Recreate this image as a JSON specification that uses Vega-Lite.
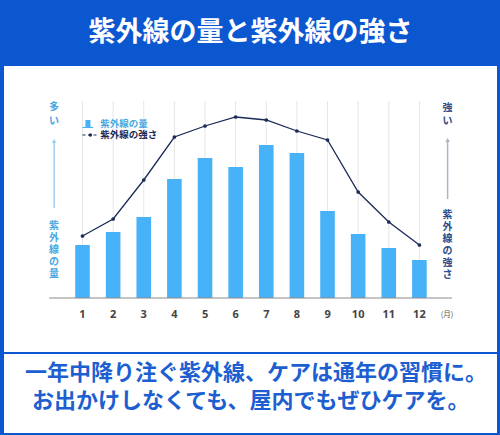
{
  "$schema": "https://vega.github.io/schema/vega-lite/v6.json",
  "background": "#0b57d0",
  "padding": {"left": 4, "right": 3, "top": 19, "bottom": 3},
  "spacing": 2,
  "title": {"text": "紫外線の量と紫外線の強さ", "color": "#ffffff", "fontSize": 27, "font": "Noto Sans CJK JP", "fontWeight": "bold", "anchor": "middle", "offset": 19, "frame": "group"},
  "config": {"view": {"fill": "#ffffff", "stroke": null}, "font": "Noto Sans CJK JP"},
  "datasets": {
    "uv": [
      {"month": 1, "amount": 53, "intensity": 62},
      {"month": 2, "amount": 66, "intensity": 79},
      {"month": 3, "amount": 81, "intensity": 118},
      {"month": 4, "amount": 119, "intensity": 161},
      {"month": 5, "amount": 140, "intensity": 172},
      {"month": 6, "amount": 131, "intensity": 181},
      {"month": 7, "amount": 153, "intensity": 178},
      {"month": 8, "amount": 145, "intensity": 167},
      {"month": 9, "amount": 87, "intensity": 158},
      {"month": 10, "amount": 64, "intensity": 106},
      {"month": 11, "amount": 50, "intensity": 76},
      {"month": 12, "amount": 38, "intensity": 53}
    ],
    "one": [{"k": 1}]
  },
  "vconcat": [
    {
      "width": 493,
      "height": 286,
      "layer": [
        {
          "data": {"name": "uv"},
          "mark": {"type": "rule", "color": "#e6e6e6", "strokeWidth": 1},
          "encoding": {
            "x": {"field": "month", "type": "quantitative", "scale": {"domain": [-1.4, 14.37], "nice": false, "zero": false}, "axis": null},
            "y": {"datum": 0, "type": "quantitative", "scale": {"domain": [-54, 232], "nice": false}, "axis": null},
            "y2": {"datum": 197}
          }
        },
        {
          "data": {"name": "uv"},
          "mark": {"type": "bar", "color": "#47b2f7", "width": 14.6},
          "encoding": {
            "x": {"field": "month", "type": "quantitative", "scale": {"domain": [-1.4, 14.37], "nice": false, "zero": false}, "axis": null},
            "y": {"field": "amount", "type": "quantitative", "scale": {"domain": [-54, 232], "nice": false}, "axis": null},
            "y2": {"datum": 0}
          }
        },
        {
          "data": {"name": "one"},
          "mark": {"type": "rule", "color": "#8a8a8a", "strokeWidth": 1},
          "encoding": {
            "x": {"datum": -0.09, "type": "quantitative", "scale": {"domain": [-1.4, 14.37], "nice": false, "zero": false}, "axis": null},
            "x2": {"datum": 13.06},
            "y": {"datum": 0, "type": "quantitative", "scale": {"domain": [-54, 232], "nice": false}, "axis": null}
          }
        },
        {
          "data": {"name": "uv"},
          "mark": {"type": "line", "color": "#1b2a57", "strokeWidth": 1.3, "point": {"filled": true, "size": 14, "color": "#1b2a57"}},
          "encoding": {
            "x": {"field": "month", "type": "quantitative", "scale": {"domain": [-1.4, 14.37], "nice": false, "zero": false}, "axis": null},
            "y": {"field": "intensity", "type": "quantitative", "scale": {"domain": [-54, 232], "nice": false}, "axis": null}
          }
        },
        {
          "data": {"name": "uv"},
          "mark": {"type": "text", "font": "Noto Sans", "fontWeight": "bold", "fontSize": 11, "color": "#444444", "baseline": "middle", "align": "center"},
          "encoding": {
            "x": {"field": "month", "type": "quantitative", "scale": {"domain": [-1.4, 14.37], "nice": false, "zero": false}, "axis": null},
            "y": {"datum": -17, "type": "quantitative", "scale": {"domain": [-54, 232], "nice": false}, "axis": null},
            "text": {"field": "month", "type": "quantitative"}
          }
        },
        {
          "data": {"name": "one"},
          "mark": {"type": "text", "text": "(月)", "fontSize": 7.5, "color": "#555555", "baseline": "middle", "align": "center"},
          "encoding": {
            "x": {"datum": 12.9, "type": "quantitative", "scale": {"domain": [-1.4, 14.37], "nice": false, "zero": false}, "axis": null},
            "y": {"datum": -17, "type": "quantitative", "scale": {"domain": [-54, 232], "nice": false}, "axis": null}
          }
        },
        {
          "data": {"name": "one"},
          "mark": {"type": "text", "text": ["多", "い"], "fontSize": 10, "fontWeight": "bold", "color": "#4aa8e0", "baseline": "top", "align": "center", "lineHeight": 13.5},
          "encoding": {
            "x": {"datum": 0.073, "type": "quantitative", "scale": {"domain": [-1.4, 14.37], "nice": false, "zero": false}, "axis": null},
            "y": {"datum": 196, "type": "quantitative", "scale": {"domain": [-54, 232], "nice": false}, "axis": null}
          }
        },
        {
          "data": {"name": "one"},
          "mark": {"type": "rule", "color": "#9fd0f0", "strokeWidth": 1.5},
          "encoding": {
            "x": {"datum": 0.073, "type": "quantitative", "scale": {"domain": [-1.4, 14.37], "nice": false, "zero": false}, "axis": null},
            "y": {"datum": 90, "type": "quantitative", "scale": {"domain": [-54, 232], "nice": false}, "axis": null},
            "y2": {"datum": 156}
          }
        },
        {
          "data": {"name": "one"},
          "mark": {"type": "point", "shape": "triangle-up", "filled": true, "size": 22, "color": "#9fd0f0", "opacity": 1},
          "encoding": {
            "x": {"datum": 0.073, "type": "quantitative", "scale": {"domain": [-1.4, 14.37], "nice": false, "zero": false}, "axis": null},
            "y": {"datum": 157, "type": "quantitative", "scale": {"domain": [-54, 232], "nice": false}, "axis": null}
          }
        },
        {
          "data": {"name": "one"},
          "mark": {"type": "text", "text": ["紫", "外", "線", "の", "量"], "fontSize": 10, "fontWeight": "bold", "color": "#4aa8e0", "baseline": "top", "align": "center", "lineHeight": 12},
          "encoding": {
            "x": {"datum": 0.073, "type": "quantitative", "scale": {"domain": [-1.4, 14.37], "nice": false, "zero": false}, "axis": null},
            "y": {"datum": 77, "type": "quantitative", "scale": {"domain": [-54, 232], "nice": false}, "axis": null}
          }
        },
        {
          "data": {"name": "one"},
          "mark": {"type": "text", "text": ["強", "い"], "fontSize": 10, "fontWeight": "bold", "color": "#2b4c8c", "baseline": "top", "align": "center", "lineHeight": 12.5},
          "encoding": {
            "x": {"datum": 12.92, "type": "quantitative", "scale": {"domain": [-1.4, 14.37], "nice": false, "zero": false}, "axis": null},
            "y": {"datum": 195, "type": "quantitative", "scale": {"domain": [-54, 232], "nice": false}, "axis": null}
          }
        },
        {
          "data": {"name": "one"},
          "mark": {"type": "rule", "color": "#a9b6c8", "strokeWidth": 1.5},
          "encoding": {
            "x": {"datum": 12.92, "type": "quantitative", "scale": {"domain": [-1.4, 14.37], "nice": false, "zero": false}, "axis": null},
            "y": {"datum": 99, "type": "quantitative", "scale": {"domain": [-54, 232], "nice": false}, "axis": null},
            "y2": {"datum": 157}
          }
        },
        {
          "data": {"name": "one"},
          "mark": {"type": "point", "shape": "triangle-up", "filled": true, "size": 22, "color": "#a9b6c8", "opacity": 1},
          "encoding": {
            "x": {"datum": 12.92, "type": "quantitative", "scale": {"domain": [-1.4, 14.37], "nice": false, "zero": false}, "axis": null},
            "y": {"datum": 158, "type": "quantitative", "scale": {"domain": [-54, 232], "nice": false}, "axis": null}
          }
        },
        {
          "data": {"name": "one"},
          "mark": {"type": "text", "text": ["紫", "外", "線", "の", "強", "さ"], "fontSize": 10, "fontWeight": "bold", "color": "#2b4c8c", "baseline": "top", "align": "center", "lineHeight": 12},
          "encoding": {
            "x": {"datum": 12.92, "type": "quantitative", "scale": {"domain": [-1.4, 14.37], "nice": false, "zero": false}, "axis": null},
            "y": {"datum": 88, "type": "quantitative", "scale": {"domain": [-54, 232], "nice": false}, "axis": null}
          }
        },
        {
          "data": {"name": "one"},
          "mark": {"type": "rect", "color": "#47b2f7"},
          "encoding": {
            "x": {"datum": 1.096, "type": "quantitative", "scale": {"domain": [-1.4, 14.37], "nice": false, "zero": false}, "axis": null},
            "x2": {"datum": 1.26},
            "y": {"datum": 171, "type": "quantitative", "scale": {"domain": [-54, 232], "nice": false}, "axis": null},
            "y2": {"datum": 178}
          }
        },
        {
          "data": {"name": "one"},
          "mark": {"type": "rule", "color": "#47b2f7", "strokeWidth": 1},
          "encoding": {
            "x": {"datum": 1.0, "type": "quantitative", "scale": {"domain": [-1.4, 14.37], "nice": false, "zero": false}, "axis": null},
            "x2": {"datum": 1.35},
            "y": {"datum": 170.5, "type": "quantitative", "scale": {"domain": [-54, 232], "nice": false}, "axis": null}
          }
        },
        {
          "data": {"name": "one"},
          "mark": {"type": "rule", "color": "#1b2a57", "strokeWidth": 1, "strokeDash": [3, 2.5]},
          "encoding": {
            "x": {"datum": 1.0, "type": "quantitative", "scale": {"domain": [-1.4, 14.37], "nice": false, "zero": false}, "axis": null},
            "x2": {"datum": 1.51},
            "y": {"datum": 163, "type": "quantitative", "scale": {"domain": [-54, 232], "nice": false}, "axis": null}
          }
        },
        {
          "data": {"name": "one"},
          "mark": {"type": "point", "filled": true, "size": 12, "color": "#1b2a57", "opacity": 1},
          "encoding": {
            "x": {"datum": 1.256, "type": "quantitative", "scale": {"domain": [-1.4, 14.37], "nice": false, "zero": false}, "axis": null},
            "y": {"datum": 163, "type": "quantitative", "scale": {"domain": [-54, 232], "nice": false}, "axis": null}
          }
        },
        {
          "data": {"name": "one"},
          "mark": {"type": "text", "text": "紫外線の量", "fontSize": 9.5, "fontWeight": "bold", "color": "#4aa8e0", "baseline": "middle", "align": "left"},
          "encoding": {
            "x": {"datum": 1.576, "type": "quantitative", "scale": {"domain": [-1.4, 14.37], "nice": false, "zero": false}, "axis": null},
            "y": {"datum": 174.5, "type": "quantitative", "scale": {"domain": [-54, 232], "nice": false}, "axis": null}
          }
        },
        {
          "data": {"name": "one"},
          "mark": {"type": "text", "text": "紫外線の強さ", "fontSize": 9.5, "fontWeight": "bold", "color": "#1b2a57", "baseline": "middle", "align": "left"},
          "encoding": {
            "x": {"datum": 1.576, "type": "quantitative", "scale": {"domain": [-1.4, 14.37], "nice": false, "zero": false}, "axis": null},
            "y": {"datum": 163, "type": "quantitative", "scale": {"domain": [-54, 232], "nice": false}, "axis": null}
          }
        }
      ]
    },
    {
      "width": 493,
      "height": 79,
      "data": {"values": [
        {"line": 1, "text": "一年中降り注ぐ紫外線、ケアは通年の習慣に。"},
        {"line": 2, "text": "お出かけしなくても、屋内でもぜひケアを。"}
      ]},
      "mark": {"type": "text", "fontSize": 22, "fontWeight": "bold", "color": "#1d5fd0", "align": "left", "baseline": "middle"},
      "encoding": {
        "x": {"field": "line", "type": "ordinal", "scale": {"type": "point", "range": [21, 28], "padding": 0}, "axis": null},
        "y": {"field": "line", "type": "ordinal", "scale": {"type": "point", "range": [19, 47], "padding": 0}, "axis": null},
        "text": {"field": "text", "type": "nominal"}
      }
    }
  ]
}
